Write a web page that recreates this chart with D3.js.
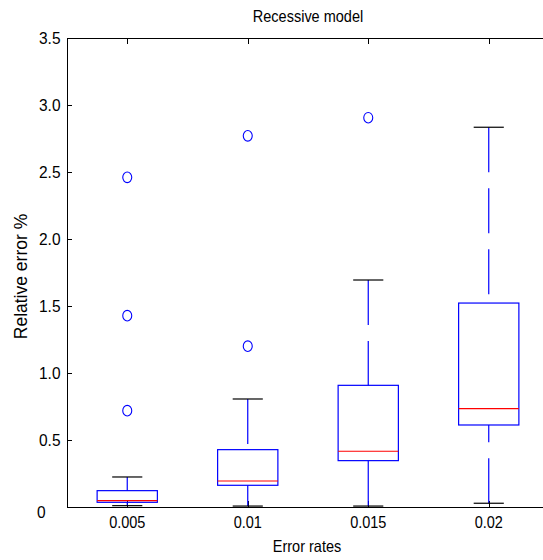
<!DOCTYPE html>
<html>
<head>
<meta charset="utf-8">
<script src="https://cdn.jsdelivr.net/npm/d3@7"></script>
<style>
  html, body { margin: 0; padding: 0; background: #fff; }
  svg { display: block; }
  text { font-family: "Liberation Sans", Arial, Helvetica, sans-serif; fill: #000; }
</style>
</head>
<body>
<div id="chart"></div>
<script>
// ---- data ----
const categories = ["0.005", "0.01", "0.015", "0.02"];
const lowerWhisker = [0.010, 0.007, 0.007, 0.028];
const q1Values = [0.035, 0.162, 0.346, 0.612];
const medianValues = [0.047, 0.194, 0.416, 0.734];
const q3Values = [0.122, 0.428, 0.908, 1.522];
const upperWhisker = [0.224, 0.806, 1.694, 2.834];
const outlierValues = [[2.46, 1.428, 0.719], [2.77, 1.20], [2.905], []];
const yTicks = [0, 0.5, 1.0, 1.5, 2.0, 2.5, 3.0, 3.5];
const yTickLabels = ["0", "0.5", "1.0", "1.5", "2.0", "2.5", "3.0", "3.5"];
const titleText = "Recessive model";
const xLabelText = "Error rates";
const yLabelText = "Relative error %";

const W = 543, H = 560;
const margin = { left: 67, top: 38, right: -6, bottom: 53 };
const x0 = margin.left, x1 = W - margin.right;   // right edge falls outside the picture
const y0 = H - margin.bottom, y1 = margin.top;

const svg = d3.select("#chart").append("svg").attr("width", W).attr("height", H);

const x = d3.scaleLinear().domain([0.5, categories.length + 0.5]).range([x0, x1]);
const y = d3.scaleLinear().domain([0, 3.5]).range([y0, y1]);

const boxW = 0.5, capW = 0.25;
const BLUE = "#0000ff", RED = "#ff0000";

const data = categories.map((c, i) => ({
  i: i + 1, c,
  lo: lowerWhisker[i], q1: q1Values[i], med: medianValues[i], q3: q3Values[i], hi: upperWhisker[i],
  out: outlierValues[i]
}));

// ---- frame ----
const frame = svg.append("g");
frame.append("rect").attr("x", x0).attr("y", y1).attr("width", x1 - x0).attr("height", y0 - y1)
  .attr("fill", "none").attr("stroke", "#000").attr("stroke-width", 1).attr("shape-rendering", "crispEdges");

// ---- axes ----
const tickLen = 5;
const xAxisB = d3.axisBottom(x).tickValues(data.map(d => d.i)).tickFormat(() => "").tickSizeInner(-6).tickSizeOuter(0);
const gxB = svg.append("g").attr("transform", `translate(0,${y0})`).call(xAxisB);
gxB.select(".domain").remove();
const xAxisT = d3.axisTop(x).tickValues(data.map(d => d.i)).tickFormat(() => "").tickSizeInner(-6).tickSizeOuter(0);
const gxT = svg.append("g").attr("transform", `translate(0,${y1})`).call(xAxisT);
gxT.select(".domain").remove();

const yAxis = d3.axisLeft(y).tickValues(yTicks).tickFormat(() => "").tickSizeInner(-tickLen).tickSizeOuter(0);
const gy = svg.append("g").attr("transform", `translate(${x0},0)`).call(yAxis);
gy.select(".domain").remove();
svg.selectAll(".tick line").attr("stroke", "#000").attr("shape-rendering", "crispEdges");

// y tick labels
yTicks.forEach((v, k) => {
  const dy = v === 0 ? 11 : 5.5;
  svg.append("text")
    .attr("transform", `translate(${v === 0 ? 37 : 39},${y(v) + dy}) scale(1,1.12)`)
    .attr("font-size", 15.5)
    .text(yTickLabels[k]);
});

// x tick labels
data.forEach(d => {
  svg.append("text")
    .attr("transform", `translate(${x(d.i)},${y0 + 21}) scale(1,1.15)`)
    .attr("text-anchor", "middle").attr("font-size", 14.5)
    .text(d.c);
});

// axis titles
svg.append("text")
  .attr("transform", `translate(${(x0 + x1) / 2 - 1},${y0 + 45}) scale(1,1.15)`)
  .attr("text-anchor", "middle").attr("font-size", 14.5)
  .text(xLabelText);
svg.append("text")
  .attr("transform", `translate(27,${276.5}) rotate(-90) scale(1,1.0)`)
  .attr("text-anchor", "middle").attr("font-size", 17.5)
  .text(yLabelText);
svg.append("text")
  .attr("transform", `translate(${(x0 + x1) / 2},22) scale(1,1.15)`)
  .attr("text-anchor", "middle").attr("font-size", 14.5)
  .text(titleText);

// ---- boxes ----
const g = svg.append("g");
const bx = g.selectAll("g.box").data(data).join("g").attr("class", "box");

// whiskers (dashed, drawn from the cap toward the box)
bx.append("line")
  .attr("x1", d => x(d.i)).attr("x2", d => x(d.i))
  .attr("y1", d => y(d.hi)).attr("y2", d => y(d.q3))
  .attr("stroke", BLUE).attr("stroke-width", 1.2).attr("stroke-dasharray", "45,16");
bx.append("line")
  .attr("x1", d => x(d.i)).attr("x2", d => x(d.i))
  .attr("y1", d => y(d.lo)).attr("y2", d => y(d.q1))
  .attr("stroke", BLUE).attr("stroke-width", 1.2).attr("stroke-dasharray", "45,16");

// caps
bx.append("line")
  .attr("x1", d => x(d.i - capW / 2)).attr("x2", d => x(d.i + capW / 2))
  .attr("y1", d => y(d.hi)).attr("y2", d => y(d.hi))
  .attr("stroke", "#000").attr("stroke-width", 1.2);
bx.append("line")
  .attr("x1", d => x(d.i - capW / 2)).attr("x2", d => x(d.i + capW / 2))
  .attr("y1", d => y(d.lo)).attr("y2", d => y(d.lo))
  .attr("stroke", "#000").attr("stroke-width", 1.2);

// box
bx.append("rect")
  .attr("x", d => x(d.i - boxW / 2)).attr("width", d => x(d.i + boxW / 2) - x(d.i - boxW / 2))
  .attr("y", d => y(d.q3)).attr("height", d => y(d.q1) - y(d.q3))
  .attr("fill", "none").attr("stroke", BLUE).attr("stroke-width", 1.2);

// median
bx.append("line")
  .attr("x1", d => x(d.i - boxW / 2)).attr("x2", d => x(d.i + boxW / 2))
  .attr("y1", d => y(d.med)).attr("y2", d => y(d.med))
  .attr("stroke", RED).attr("stroke-width", 1.2);

// outliers
bx.selectAll("ellipse").data(d => d.out.map(v => ({ i: d.i, v }))).join("ellipse")
  .attr("cx", d => x(d.i)).attr("cy", d => y(d.v))
  .attr("rx", 4.5).attr("ry", 5.3)
  .attr("fill", "none").attr("stroke", BLUE).attr("stroke-width", 1.1);

// redraw bottom axis line on top
svg.append("line").attr("x1", x0).attr("x2", x1).attr("y1", y0).attr("y2", y0)
  .attr("stroke", "#000").attr("shape-rendering", "crispEdges");
</script>
</body>
</html>
